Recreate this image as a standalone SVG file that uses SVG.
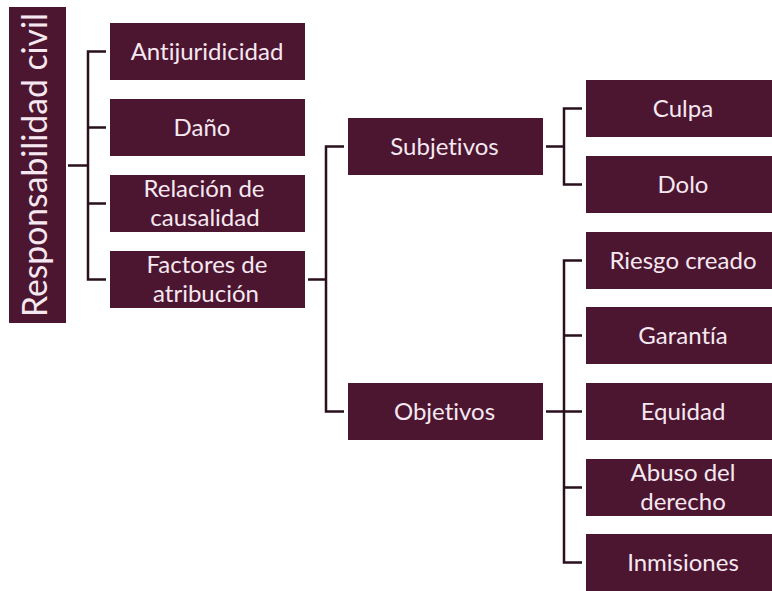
<svg xmlns="http://www.w3.org/2000/svg" width="772" height="591" viewBox="0 0 772 591">
<style>
.box{fill:#4c1530;}
.t{fill:#f6e8f0;font-family:Lato,"Open Sans","DejaVu Sans",sans-serif;font-size:24px;text-anchor:middle;font-variant-ligatures:none;font-feature-settings:"liga" 0,"clig" 0;}
.root{font-size:34px;}
.c{fill:none;stroke:#2a0f1c;stroke-width:2.5;}
</style>
<rect width="772" height="591" fill="#ffffff"/>
<g id="connectors" class="c">
<path d="M68 165.5H88M106 51.5H88V279.5H106M88 127.5H106M88 203.5H106"/>
<path d="M308 279.5H326M344 146.5H326V411.5H344"/>
<path d="M546 146.5H564M582 108.5H564V184.5H582"/>
<path d="M546 411.5H582M582 260.5H564V562.5H582M564 335.5H582M564 487.5H582"/>
</g>
<g id="n-root"><rect class="box" x="9" y="7" width="57" height="316"/><text class="t root" transform="translate(47,165) rotate(-90)" textLength="304" lengthAdjust="spacingAndGlyphs">Responsabilidad civil</text></g>
<g id="n-antijuridicidad"><rect class="box" x="110" y="23" width="195" height="57"/><text class="t" x="207" y="60">Antijuridicidad</text></g>
<g id="n-dano"><rect class="box" x="110" y="99" width="195" height="57"/><text class="t" x="202" y="136">Daño</text></g>
<g id="n-relacion"><rect class="box" x="110" y="175" width="195" height="57"/><text class="t"><tspan x="204" y="196.5">Relación de</tspan><tspan x="205" y="225.5">causalidad</tspan></text></g>
<g id="n-factores"><rect class="box" x="110" y="251" width="195" height="57"/><text class="t"><tspan x="207" y="272.5">Factores de</tspan><tspan x="206" y="301.5">atribución</tspan></text></g>
<g id="n-subjetivos"><rect class="box" x="348" y="118" width="195" height="57"/><text class="t" x="444.5" y="155">Subjetivos</text></g>
<g id="n-objetivos"><rect class="box" x="348" y="383" width="195" height="57"/><text class="t" x="444.5" y="420">Objetivos</text></g>
<g id="n-culpa"><rect class="box" x="586" y="80" width="195" height="57"/><text class="t" x="683" y="117">Culpa</text></g>
<g id="n-dolo"><rect class="box" x="586" y="156" width="195" height="57"/><text class="t" x="683" y="193">Dolo</text></g>
<g id="n-riesgo"><rect class="box" x="586" y="232" width="195" height="57"/><text class="t" x="683" y="269">Riesgo creado</text></g>
<g id="n-garantia"><rect class="box" x="586" y="307" width="195" height="57"/><text class="t" x="683" y="344">Garantía</text></g>
<g id="n-equidad"><rect class="box" x="586" y="383" width="195" height="57"/><text class="t" x="683" y="420">Equidad</text></g>
<g id="n-abuso"><rect class="box" x="586" y="459" width="195" height="57"/><text class="t"><tspan x="683" y="480.5">Abuso del</tspan><tspan x="683" y="509.5">derecho</tspan></text></g>
<g id="n-inmisiones"><rect class="box" x="586" y="534" width="195" height="57"/><text class="t" x="683" y="571">Inmisiones</text></g>
</svg>
